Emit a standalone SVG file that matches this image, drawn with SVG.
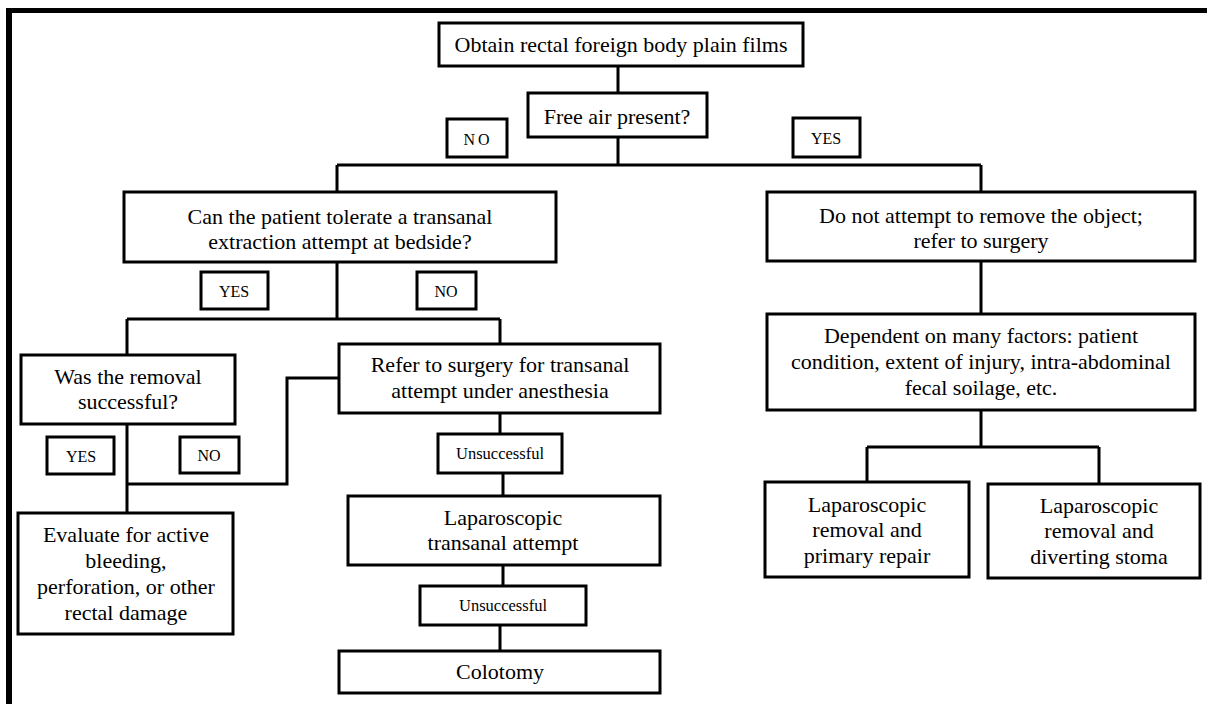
<svg xmlns="http://www.w3.org/2000/svg" width="1207" height="704" viewBox="0 0 1207 704">
<style>
.box{fill:#fff;stroke:#000;stroke-width:3}
.lbl{fill:#fff;stroke:#000;stroke-width:3}
.t{font-family:'Liberation Serif','Times New Roman',Tinos,'DejaVu Serif',serif;font-size:22px;fill:#000;text-anchor:middle}
.s{font-family:'Liberation Serif','Times New Roman',Tinos,'DejaVu Serif',serif;font-size:16px;fill:#000;text-anchor:middle}
.u{font-family:'Liberation Serif','Times New Roman',Tinos,'DejaVu Serif',serif;font-size:16.5px;fill:#000;text-anchor:middle}
.c{fill:none;stroke:#000;stroke-width:3}
</style>
<rect x="0" y="0" width="1207" height="704" fill="#fff"/>
<g id="frame"><rect x="6" y="8" width="1201" height="5" fill="#000"/><rect x="6" y="8" width="6" height="696" fill="#000"/></g>
<g id="connectors">
<path class="c" d="M618 66V93M618 137V165M337 165H981M337 165V192M981 165V192"/>
<path class="c" d="M981 261V314M981 410V447M867 447H1099M867 447V482M1099 447V484"/>
<path class="c" d="M337 262V319M127 319H500M127 319V355M500 319V344"/>
<path class="c" d="M339 378H287V484H127M127 424V513"/>
<path class="c" d="M500 413V434M503 473V496M503 565V586M500 625V651"/>
</g>
<g id="n-films"><rect class="box" x="439" y="23" width="364" height="43"/><text class="t" x="621" y="52">Obtain rectal foreign body plain films</text></g>
<g id="n-freeair"><rect class="box" x="528" y="93" width="179" height="44"/><text class="t" x="617" y="124">Free air present?</text></g>
<g id="l-no1"><rect class="lbl" x="447" y="119" width="60" height="38"/><text class="s" x="478" y="145" letter-spacing="3">NO</text></g>
<g id="l-yes1"><rect class="lbl" x="793" y="118" width="67" height="39"/><text class="s" x="826" y="144">YES</text></g>
<g id="n-tolerate"><rect class="box" x="124" y="192" width="432" height="70"/><text class="t" x="340" y="224">Can the patient tolerate a transanal</text><text class="t" x="340" y="249">extraction attempt at bedside?</text></g>
<g id="n-donot"><rect class="box" x="767" y="192" width="428" height="69"/><text class="t" x="981" y="223">Do not attempt to remove the object;</text><text class="t" x="981" y="248">refer to surgery</text></g>
<g id="l-yes2"><rect class="lbl" x="201" y="272" width="67" height="37"/><text class="s" x="234" y="297">YES</text></g>
<g id="l-no2"><rect class="lbl" x="417" y="272" width="59" height="37"/><text class="s" x="446" y="297">NO</text></g>
<g id="n-depend"><rect class="box" x="767" y="314" width="428" height="96"/><text class="t" x="981" y="343">Dependent on many factors: patient</text><text class="t" x="981" y="369">condition, extent of injury, intra-abdominal</text><text class="t" x="981" y="395">fecal soilage, etc.</text></g>
<g id="n-removal"><rect class="box" x="21" y="355" width="214" height="69"/><text class="t" x="128" y="384">Was the removal</text><text class="t" x="128" y="409">successful?</text></g>
<g id="n-refer"><rect class="box" x="339" y="344" width="321" height="69"/><text class="t" x="500" y="372">Refer to surgery for transanal</text><text class="t" x="500" y="398">attempt under anesthesia</text></g>
<g id="l-yes3"><rect class="lbl" x="47" y="437" width="67" height="37"/><text class="s" x="81" y="462">YES</text></g>
<g id="l-no3"><rect class="lbl" x="180" y="437" width="59" height="36"/><text class="s" x="209" y="461">NO</text></g>
<g id="l-unsucc1"><rect class="lbl" x="438" y="434" width="124" height="39"/><text class="u" x="500" y="459">Unsuccessful</text></g>
<g id="n-lapprimary"><rect class="box" x="765" y="482" width="204" height="95"/><text class="t" x="867" y="512">Laparoscopic</text><text class="t" x="867" y="537">removal and</text><text class="t" x="867" y="563">primary repair</text></g>
<g id="n-lapstoma"><rect class="box" x="988" y="484" width="212" height="94"/><text class="t" x="1099" y="513">Laparoscopic</text><text class="t" x="1099" y="538">removal and</text><text class="t" x="1099" y="564">diverting stoma</text></g>
<g id="n-laptrans"><rect class="box" x="348" y="496" width="312" height="69"/><text class="t" x="503" y="525">Laparoscopic</text><text class="t" x="503" y="550">transanal attempt</text></g>
<g id="n-evaluate"><rect class="box" x="18" y="513" width="215" height="121"/><text class="t" x="126" y="542">Evaluate for active</text><text class="t" x="126" y="568">bleeding,</text><text class="t" x="126" y="594">perforation, or other</text><text class="t" x="126" y="620">rectal damage</text></g>
<g id="l-unsucc2"><rect class="lbl" x="420" y="586" width="166" height="39"/><text class="u" x="503" y="611">Unsuccessful</text></g>
<g id="n-colotomy"><rect class="box" x="339" y="651" width="321" height="42"/><text class="t" x="500" y="679">Colotomy</text></g>
</svg>
